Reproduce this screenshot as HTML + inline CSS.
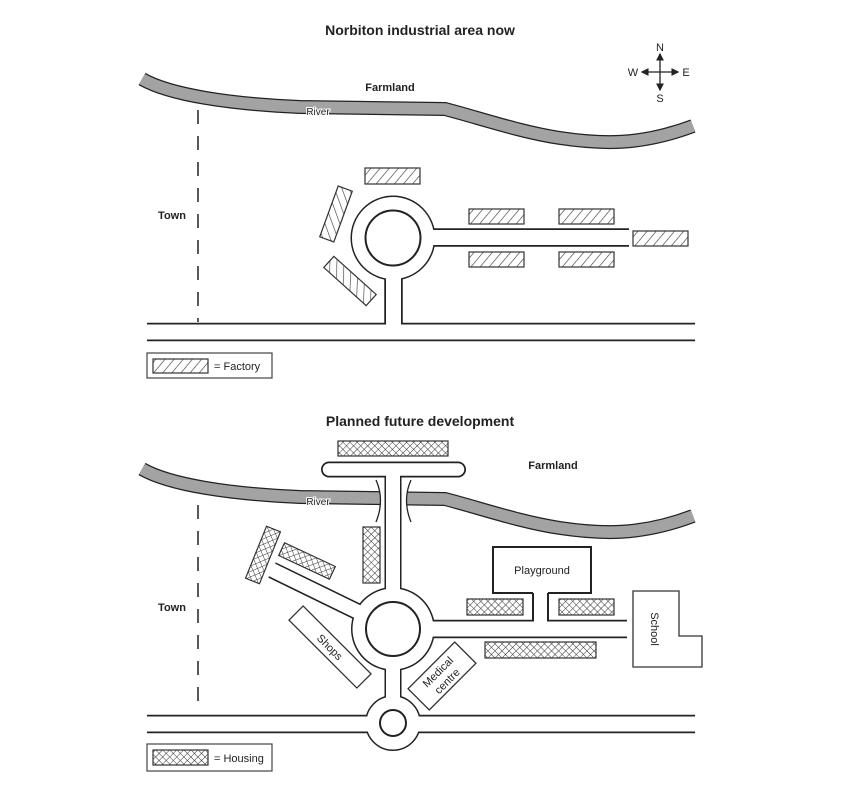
<!DOCTYPE html>
<html><head><meta charset="utf-8"><style>
html,body{margin:0;padding:0;background:#fff}
svg{display:block}
text{font-family:"Liberation Sans",Arial,sans-serif;fill:#222}
.b{font-weight:bold}
</style></head><body>
<svg width="854" height="796" viewBox="0 0 854 796" xmlns="http://www.w3.org/2000/svg">
<defs>
<pattern id="hatch" patternUnits="userSpaceOnUse" width="7" height="7" patternTransform="rotate(40)">
<rect width="7" height="7" fill="#fff"/><line x1="0" y1="0" x2="0" y2="7" stroke="#333" stroke-width="1.2"/>
</pattern>
<pattern id="hatch2" patternUnits="userSpaceOnUse" width="7" height="7" patternTransform="rotate(-40)">
<rect width="7" height="7" fill="#fff"/><line x1="0" y1="0" x2="0" y2="7" stroke="#333" stroke-width="1.2"/>
</pattern>
<pattern id="cross" patternUnits="userSpaceOnUse" width="5" height="5" patternTransform="rotate(45)">
<rect width="5" height="5" fill="#fff"/><line x1="0" y1="0" x2="0" y2="5" stroke="#333" stroke-width="1"/><line x1="0" y1="0" x2="5" y2="0" stroke="#333" stroke-width="1"/>
</pattern>
<marker id="ar" markerWidth="6" markerHeight="6" refX="5" refY="3" orient="auto"><path d="M0,0 L6,3 L0,6 z" fill="#222"/></marker>
</defs>

<!-- ===== TOP MAP ===== -->
<text x="420" y="35" text-anchor="middle" font-size="14" class="b">Norbiton industrial area now</text>
<g stroke="#222" stroke-width="1.3">
<line x1="660" y1="72" x2="660" y2="54" marker-end="url(#ar)"/>
<line x1="660" y1="72" x2="660" y2="90" marker-end="url(#ar)"/>
<line x1="660" y1="72" x2="642" y2="72" marker-end="url(#ar)"/>
<line x1="660" y1="72" x2="678" y2="72" marker-end="url(#ar)"/>
</g>
<text x="660" y="51" font-size="11" text-anchor="middle">N</text>
<text x="660" y="102" font-size="11" text-anchor="middle">S</text>
<text x="633" y="76" font-size="11" text-anchor="middle">W</text>
<text x="686" y="76" font-size="11" text-anchor="middle">E</text>

<path d="M142,79 C170,95 230,104 300,107 L445,109 C480,118 520,132 560,138 C600,144 640,146 693,126" fill="none" stroke="#222" stroke-width="14"/>
<path d="M142,79 C170,95 230,104 300,107 L445,109 C480,118 520,132 560,138 C600,144 640,146 693,126" fill="none" stroke="#a3a3a3" stroke-width="11.5"/>
<text x="318" y="115" font-size="10" text-anchor="middle" fill="#333" stroke="#fff" stroke-width="2" paint-order="stroke">River</text>
<text x="390" y="91" font-size="11" text-anchor="middle" class="b">Farmland</text>
<line x1="198" y1="110" x2="198" y2="322" stroke="#222" stroke-width="1.5" stroke-dasharray="14,12"/>
<text x="172" y="219" font-size="11" text-anchor="middle" class="b">Town</text>

<g fill="none" stroke="#222" stroke-width="18.5">
<line x1="147" y1="332" x2="695" y2="332"/>
<line x1="393.5" y1="238" x2="393.5" y2="332"/>
<line x1="393" y1="237.5" x2="629" y2="237.5"/>
<circle cx="393" cy="238" r="34.5" stroke-width="16"/>
</g>
<g fill="none" stroke="#fff" stroke-width="15">
<line x1="140" y1="332" x2="700" y2="332"/>
<line x1="393.5" y1="238" x2="393.5" y2="332"/>
<line x1="393" y1="237.5" x2="635" y2="237.5"/>
<circle cx="393" cy="238" r="34.5" stroke-width="13"/>
</g>
<circle cx="393" cy="238" r="27.5" fill="#fff" stroke="#222" stroke-width="2"/>

<g stroke="#333" stroke-width="1.2" fill="url(#hatch)">
<rect x="365" y="168" width="55" height="16"/>
<rect x="469" y="209" width="55" height="15"/>
<rect x="559" y="209" width="55" height="15"/>
<rect x="469" y="252" width="55" height="15"/>
<rect x="559" y="252" width="55" height="15"/>
<rect x="633" y="231" width="55" height="15"/>
<rect x="-7.5" y="-27" width="15" height="54" fill="url(#hatch2)" transform="translate(336,214) rotate(20)"/>
<rect x="-28.5" y="-7.5" width="57" height="15" fill="url(#hatch2)" transform="translate(350,281) rotate(42)"/>
</g>
<rect x="147" y="353" width="125" height="25" fill="none" stroke="#444" stroke-width="1.2"/>
<rect x="153" y="359" width="55" height="14" fill="url(#hatch)" stroke="#333" stroke-width="1.2"/>
<text x="214" y="370" font-size="11">= Factory</text>

<!-- ===== BOTTOM MAP ===== -->
<text x="420" y="426" text-anchor="middle" font-size="14" class="b">Planned future development</text>
<g transform="translate(0,390)">
<path d="M142,79 C170,95 230,104 300,107 L445,109 C480,118 520,132 560,138 C600,144 640,146 693,126" fill="none" stroke="#222" stroke-width="14"/>
<path d="M142,79 C170,95 230,104 300,107 L445,109 C480,118 520,132 560,138 C600,144 640,146 693,126" fill="none" stroke="#a3a3a3" stroke-width="11.5"/>
</g>
<rect x="380" y="478" width="27" height="44" fill="#fff"/>
<path d="M376,480 Q385,500 376,522 M411,480 Q402,500 411,522" fill="none" stroke="#222" stroke-width="1.3"/>
<text x="318" y="505" font-size="10" text-anchor="middle" fill="#333" stroke="#fff" stroke-width="2" paint-order="stroke">River</text>
<text x="553" y="469" font-size="11" text-anchor="middle" class="b">Farmland</text>
<line x1="198" y1="505" x2="198" y2="712" stroke="#222" stroke-width="1.5" stroke-dasharray="14,12"/>
<text x="172" y="611" font-size="11" text-anchor="middle" class="b">Town</text>

<g fill="none" stroke="#222" stroke-width="17">
<line x1="147" y1="724" x2="695" y2="724" stroke-width="18.5"/>
<line x1="329" y1="469.5" x2="458" y2="469.5" stroke-linecap="round" stroke-width="16"/>
<line x1="393" y1="469" x2="393" y2="724"/>
<line x1="272" y1="570" x2="393" y2="629"/>
<line x1="393" y1="629" x2="627" y2="629" stroke-width="18.5"/>
<line x1="540.5" y1="593" x2="540.5" y2="629"/>
<circle cx="393" cy="629" r="34" stroke-width="16"/>
<circle cx="393" cy="723" r="20" stroke-width="16"/>
</g>
<g fill="none" stroke="#fff" stroke-width="14">
<line x1="140" y1="724" x2="700" y2="724" stroke-width="15"/>
<line x1="329" y1="469.5" x2="458" y2="469.5" stroke-linecap="round" stroke-width="12.5"/>
<line x1="393" y1="469" x2="393" y2="724"/>
<line x1="266" y1="567" x2="393" y2="629"/>
<line x1="393" y1="629" x2="633" y2="629" stroke-width="15"/>
<line x1="540.5" y1="590" x2="540.5" y2="629" stroke-width="13"/>
<circle cx="393" cy="629" r="34" stroke-width="13"/>
<circle cx="393" cy="723" r="20" stroke-width="13"/>
</g>
<circle cx="393" cy="629" r="27" fill="#fff" stroke="#222" stroke-width="2"/>
<circle cx="393" cy="723" r="13" fill="#fff" stroke="#222" stroke-width="2"/>

<path d="M533,593 L493,593 L493,547 L591,547 L591,593 L548,593" fill="#fff" stroke="#222" stroke-width="2"/>
<rect x="534.5" y="592" width="12" height="6" fill="#fff"/>
<text x="542" y="574" font-size="11" text-anchor="middle">Playground</text>
<path d="M633,591 L679,591 L679,636 L702,636 L702,667 L633,667 Z" fill="#fff" stroke="#333" stroke-width="1.3"/>
<text x="0" y="0" font-size="11" text-anchor="middle" transform="translate(651,629) rotate(90)">School</text>
<g transform="translate(330,647) rotate(45)">
<rect x="-48" y="-10" width="96" height="20" fill="#fff" stroke="#333" stroke-width="1.3"/>
<text x="0" y="4" font-size="11" text-anchor="middle">Shops</text>
</g>
<g transform="translate(442,676) rotate(-45)">
<rect x="-33" y="-15" width="66" height="30" fill="#fff" stroke="#333" stroke-width="1.3"/>
<text x="0" y="-2" font-size="11" text-anchor="middle">Medical</text>
<text x="0" y="11" font-size="11" text-anchor="middle">centre</text>
</g>

<g stroke="#333" stroke-width="1.2" fill="url(#cross)">
<rect x="338" y="441" width="110" height="15"/>
<rect x="363" y="527" width="17" height="56"/>
<rect x="467" y="599" width="56" height="16"/>
<rect x="559" y="599" width="55" height="16"/>
<rect x="485" y="642" width="111" height="16"/>
<rect x="-7.5" y="-28" width="15" height="56" transform="translate(263,555) rotate(22)"/>
<rect x="-28" y="-7" width="56" height="14" transform="translate(307,561) rotate(25)"/>
</g>
<rect x="147" y="744" width="125" height="27" fill="none" stroke="#444" stroke-width="1.2"/>
<rect x="153" y="750" width="55" height="15" fill="url(#cross)" stroke="#333" stroke-width="1.2"/>
<text x="214" y="762" font-size="11">= Housing</text>
</svg>
</body></html>
